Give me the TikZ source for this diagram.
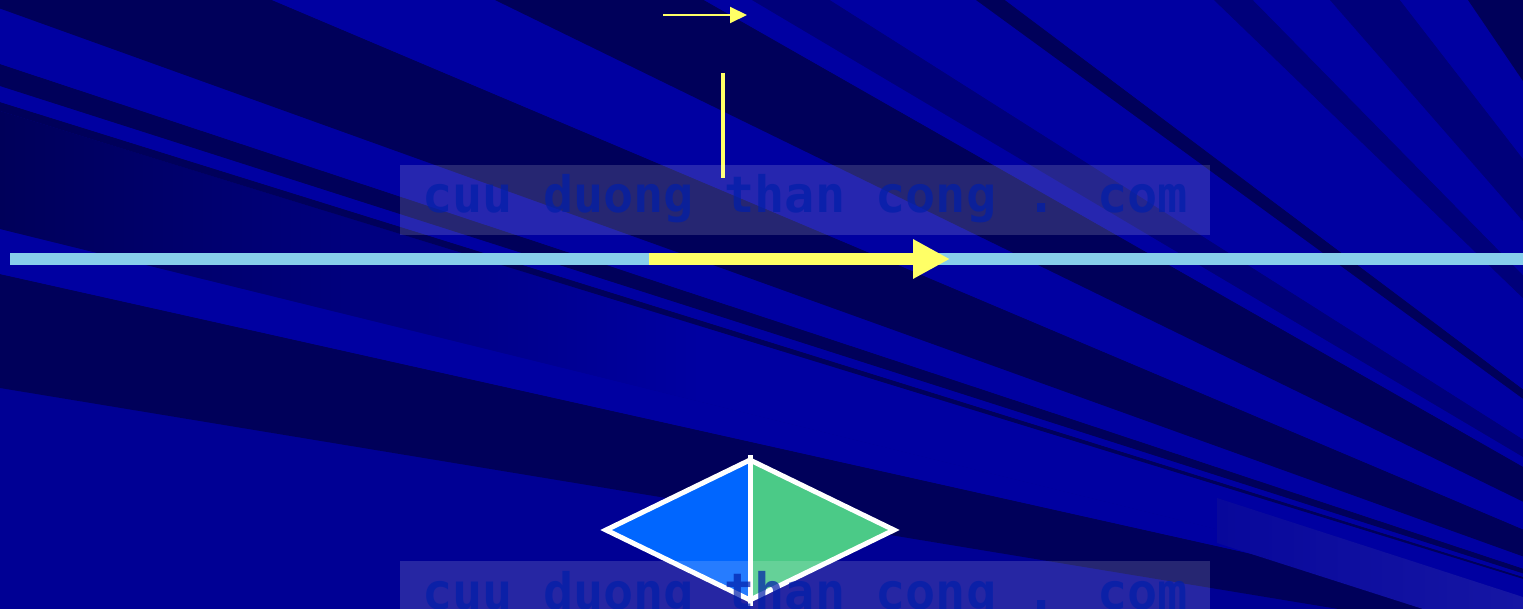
\documentclass[tikz,border=0pt]{standalone}
\usepackage{fontspec}
\newfontfamily\wmfont{DejaVu Sans Mono Bold}
\usetikzlibrary{calc,arrows.meta}
\definecolor{bgmid}{RGB}{0,0,148}
\definecolor{bgbright}{RGB}{0,0,161}
\definecolor{bgdark}{RGB}{0,0,90}
\definecolor{bgdarkb}{RGB}{0,0,122}
\definecolor{skyline}{RGB}{135,206,235}
\definecolor{arrowyellow}{RGB}{255,255,102}
\definecolor{diamblue}{RGB}{0,102,255}
\definecolor{diamgreen}{RGB}{75,202,135}
\definecolor{wmink}{RGB}{0,30,170}
\definecolor{fadeL}{RGB}{8,8,155}
\definecolor{fadeR}{RGB}{22,22,164}
\newcommand\bgband[3]{\fill[#1] (F) -- ($(F)!3!(#2)$) -- ($(F)!3!(#3)$) -- cycle;}
\tikzset{
  wmbox/.style={fill=white, fill opacity=0.15},
  wmlabel/.style={anchor=base west, inner sep=0pt, text=wmink, text opacity=0.7,
    font=\wmfont\fontsize{50.2}{50.2}\selectfont},
  axisline/.style={draw=skyline, line width=12pt},
  bigarrow/.style={draw=arrowyellow, line width=12pt, -{Triangle[length=37pt,width=37pt]}},
  smallarrow/.style={draw=arrowyellow, line width=2pt, -{Triangle[length=17pt,width=16pt]}},
  vline/.style={draw=arrowyellow, line width=4.5pt},
  diamedge/.style={draw=white, line width=5pt, line join=miter},
}
\begin{document}
\begin{tikzpicture}[x=1pt,y=-1pt]
\useasboundingbox (0,0) rectangle (1523,609);
\begin{scope}
  \clip (0,0) rectangle (1523,609);
  \fill[bgmid] (0,0) rectangle (1523,609);
  \coordinate (F) at (1950,710);
  % bands meeting the left edge
  \bgband{bgdark}{0,274}{0,388}
  \bgband{bgbright}{0,229}{0,274}
  \begin{scope}
    \clip (F) -- ($(F)!3!(0,111)$) -- ($(F)!3!(0,229)$) -- cycle;
    \shade[left color=bgdark, right color=bgbright] (0,0) rectangle (700,609);
    \fill[bgbright] (699,0) rectangle (1523,609);
  \end{scope}
  \bgband{bgdark}{0,102}{0,111}
  \bgband{bgbright}{0,86}{0,102}
  \bgband{bgdark}{0,64}{0,86}
  \bgband{bgbright}{0,8.5}{0,64}
  \bgband{bgdark}{0,8.5}{272,0}
  % bands meeting the top edge
  \bgband{bgbright}{272,0}{495,0}
  \bgband{bgdark}{495,0}{704,0}
  \bgband{bgbright}{704,0}{752,0}
  \bgband{bgdarkb}{752,0}{830,0}
  \bgband{bgbright}{830,0}{976,0}
  \bgband{bgdark}{976,0}{1005,0}
  \bgband{bgbright}{1005,0}{1214,0}
  \bgband{bgdarkb}{1214,0}{1253,0}
  \bgband{bgbright}{1253,0}{1330,0}
  \bgband{bgdarkb}{1330,0}{1400,0}
  \bgband{bgbright}{1400,0}{1468,0}
  \bgband{bgdark}{1468,0}{1600,0}
  % faint lighter band, bottom right
  \shade[left color=fadeL, right color=fadeR]
    (1217,498) -- (1523,597) -- (1523,609) -- (1423,609) -- (1217,543) -- cycle;
\end{scope}

% axis and arrows
\coordinate (axL) at (10,259);
\coordinate (axR) at (1523,259);
\draw[axisline] (axL) -- (axR);
\coordinate (vA) at (649,259);
\coordinate (vB) at (950,259);
\draw[bigarrow] (vA) -- (vB);
\coordinate (sA) at (663,15);
\coordinate (sB) at (747,15);
\draw[smallarrow] (sA) -- (sB);
\coordinate (lT) at (723,73);
\coordinate (lB) at (723,178);
\draw[vline] (lT) -- (lB);

% diamond
\coordinate (dt) at (750,460);
\coordinate (db) at (750,600);
\coordinate (dl) at (606,530);
\coordinate (dr) at (894,530);
\fill[diamblue] (dt) -- (dl) -- (db) -- cycle;
\fill[diamgreen] (dt) -- (dr) -- (db) -- cycle;
\draw[diamedge] (dt) -- (dl) -- (db) -- (dr) -- cycle;
\coordinate (mT) at (750,455);
\coordinate (mB) at (750,606);
\draw[white, line width=5pt] (mT) -- (mB);

% watermarks
\begin{scope}
  \clip (0,0) rectangle (1523,609);
  \fill[wmbox] (400,165) rectangle (1210,235);
  \node[wmlabel] (wm1) at (422,213) {cuu duong than cong . com};
  \fill[wmbox] (400,561) rectangle (1210,631);
  \node[wmlabel] (wm2) at (422,609) {cuu duong than cong . com};
\end{scope}
\end{tikzpicture}
\end{document}
